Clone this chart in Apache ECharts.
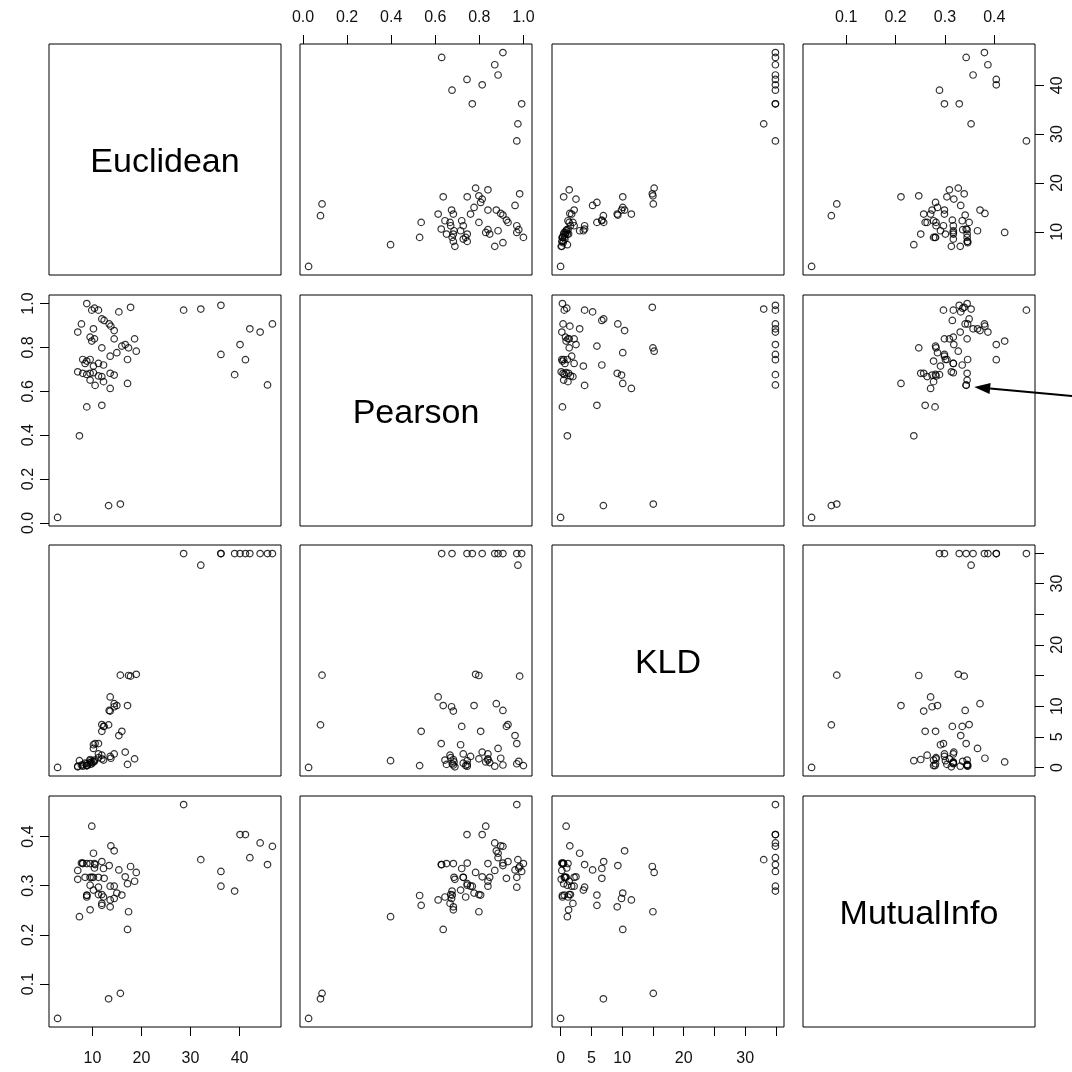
<!DOCTYPE html>
<html>
<head>
<meta charset="utf-8">
<script src="https://cdn.jsdelivr.net/npm/echarts@6/dist/echarts.min.js"></script>
<style>html,body{margin:0;padding:0;background:#fff}#c{width:1072px;height:1072px}</style>
</head>
<body>
<div id="c"></div>
<script>
// ---- data (one value per observation, same order in every array) ----
const variableNames = ['Euclidean', 'Pearson', 'KLD', 'MutualInfo'];
const euclidean = [2.9, 13.3, 15.7,
  28.6, 32.1, 36.2, 36.2, 39.0, 40.1, 41.2, 42.1, 44.2, 45.7, 46.7,
  8.85, 9.87, 10.42, 11.23, 15.39, 17.78, 7.76, 7.01, 10.21, 11.92, 12.39, 13.42, 13.76, 14.44,
  9.53, 10.42, 9.87, 14.44, 11.92, 18.6, 13.62, 14.98, 16.0, 16.69, 17.37, 18.94, 17.16,
  8.03, 8.51, 9.53, 8.85, 10.21, 11.23, 12.26, 7.01, 8.03, 8.85, 9.53, 10.21, 11.23, 11.92, 12.26,
  9.53, 10.55, 13.62, 14.44, 17.16, 13.62, 8.85, 11.92, 7.35];
const pearson = [0.025, 0.079, 0.086,
  0.970, 0.975, 0.992, 0.768, 0.676, 0.813, 0.744, 0.885, 0.870, 0.629, 0.907,
  1.000, 0.970, 0.979, 0.970, 0.962, 0.983, 0.907, 0.870, 0.885, 0.930, 0.923, 0.907, 0.897, 0.877,
  0.847, 0.839, 0.829, 0.839, 0.798, 0.839, 0.760, 0.776, 0.806, 0.813, 0.798, 0.783, 0.745,
  0.745, 0.727, 0.745, 0.738, 0.715, 0.727, 0.720, 0.689, 0.682, 0.677, 0.682, 0.685, 0.670, 0.667, 0.644,
  0.651, 0.627, 0.682, 0.674, 0.636, 0.613, 0.529, 0.536, 0.397];
const kld = [0.0, 6.95, 15.06,
  34.9, 33.0, 34.9, 34.9, 34.9, 34.9, 34.9, 34.9, 34.9, 34.9, 34.9,
  0.3, 0.6, 1.0, 3.9, 5.2, 14.9, 0.4, 0.2, 3.1, 7.0, 6.7, 9.3, 1.5, 10.4,
  0.8, 1.2, 0.9, 2.2, 1.4, 1.4, 1.8, 10.1, 5.9, 2.5, 15.0, 15.2, 0.5,
  0.2, 0.7, 1.1, 0.3, 3.7, 2.2, 6.7, 0.1, 0.4, 0.6, 1.3, 0.9, 1.6, 2.0, 1.2,
  0.5, 3.9, 9.2, 9.9, 10.1, 11.5, 0.3, 5.9, 1.1];
const mutualInfo = [0.030, 0.070, 0.081,
  0.465, 0.353, 0.329, 0.299, 0.289, 0.404, 0.404, 0.357, 0.387, 0.343, 0.380,
  0.345, 0.317, 0.336, 0.297, 0.332, 0.339, 0.346, 0.331, 0.366, 0.349, 0.315, 0.341, 0.381, 0.371,
  0.317, 0.345, 0.421, 0.299, 0.282, 0.309, 0.299, 0.285, 0.281, 0.318, 0.247, 0.327, 0.304,
  0.346, 0.317, 0.301, 0.277, 0.291, 0.317, 0.335, 0.313, 0.345, 0.281, 0.251, 0.317, 0.282, 0.264, 0.277,
  0.345, 0.343, 0.257, 0.274, 0.211, 0.271, 0.280, 0.260, 0.237];
const highlightedIndex = 12; // the point the arrow points at

// ---- tick labels ----
const euclideanTicks = [10, 20, 30, 40];
const pearsonTicks = [0.0, 0.2, 0.4, 0.6, 0.8, 1.0];
const kldTicks = [0, 5, 10, 15, 20, 25, 30, 35];
const kldLabels = [0, 5, 10, 20, 30];
const mutualInfoTicks = [0.1, 0.2, 0.3, 0.4];

const values = [euclidean, pearson, kld, mutualInfo];
const ticks = [euclideanTicks, pearsonTicks, kldTicks, mutualInfoTicks];
const labels = [euclideanTicks, pearsonTicks, kldLabels, mutualInfoTicks];
const fmt = [v => String(v), v => v.toFixed(1), v => String(v), v => v.toFixed(1)];

// R-style range: data range extended by 4% on both sides
function ext(arr) {
  const mn = Math.min(...arr), mx = Math.max(...arr), d = mx - mn;
  return [mn - 0.04 * d, mx + 0.04 * d];
}
const ranges = values.map(ext);

// ---- layout ----
const L0 = 49, T0 = 44, STEP_X = 251.3, STEP_Y = 250.7, W = 232, H = 231;
const FONT = 'Liberation Sans, Arial, sans-serif';
const n = 4;
const grids = [], xAxes = [], yAxes = [], series = [], texts = [];
const gi = (i, j) => i * n + j;

for (let i = 0; i < n; i++) {
  for (let j = 0; j < n; j++) {
    const left = Math.round(L0 + j * STEP_X), top = Math.round(T0 + i * STEP_Y);
    grids.push({left, top, width: W, height: H, show: true, borderColor: '#000', borderWidth: 1, backgroundColor: 'transparent', containLabel: false});
    const topAxis = (i === 0 && j % 2 === 1);
    const bottomAxis = (i === n - 1 && j % 2 === 0);
    const leftAxis = (j === 0 && i % 2 === 1);
    const rightAxis = (j === n - 1 && i % 2 === 0);
    const showX = (topAxis || bottomAxis) && i !== j;
    const showY = (leftAxis || rightAxis) && i !== j;
    xAxes.push({
      gridIndex: gi(i, j), type: 'value', min: ranges[j][0], max: ranges[j][1],
      position: topAxis ? 'top' : 'bottom',
      axisLine: {show: false}, splitLine: {show: false},
      axisTick: {show: showX, length: 9, lineStyle: {color: '#000', width: 1}, customValues: ticks[j]},
      axisLabel: {show: showX, customValues: labels[j], formatter: fmt[j], fontSize: 16, color: '#111', fontFamily: FONT, margin: topAxis ? 18 : 24}
    });
    yAxes.push({
      gridIndex: gi(i, j), type: 'value', min: ranges[i][0], max: ranges[i][1],
      position: rightAxis ? 'right' : 'left',
      axisLine: {show: false}, splitLine: {show: false},
      axisTick: {show: showY, length: 9, lineStyle: {color: '#000', width: 1}, customValues: ticks[i]},
      axisLabel: {show: showY, customValues: labels[i], formatter: fmt[i], rotate: 90, fontSize: 16, color: '#111', fontFamily: FONT, margin: rightAxis ? 15 : 12}
    });
    if (i === j) {
      texts.push({type: 'text', x: left + W / 2, y: top + H / 2 + 3, silent: true,
        style: {text: variableNames[i], fontSize: 34, fontFamily: FONT, fill: '#000', align: 'center', verticalAlign: 'middle'}});
    } else {
      series.push({
        type: 'scatter', xAxisIndex: gi(i, j), yAxisIndex: gi(i, j),
        symbol: 'circle', symbolSize: 6.5, silent: true, animation: false,
        itemStyle: {color: 'rgba(0,0,0,0)', borderColor: '#000', borderWidth: 1.2},
        data: values[j].map((v, k) => [v, values[i][k]])
      });
    }
  }
}

const chart = echarts.init(document.getElementById('c'), null, {renderer: 'canvas'});
chart.setOption({animation: false, backgroundColor: '#fff', grid: grids, xAxis: xAxes, yAxis: yAxes, series, graphic: texts});

// arrow annotation pointing at one observation in the Pearson ~ MutualInfo panel
const target = chart.convertToPixel({gridIndex: gi(1, 3)}, [mutualInfo[highlightedIndex], pearson[highlightedIndex]]);
const tip = [target[0] + 8, target[1] + 2];
const tail = [1072, target[1] + 11];
const dx = tail[0] - tip[0], dy = tail[1] - tip[1], len = Math.hypot(dx, dy);
const ux = dx / len, uy = dy / len, px = -uy, py = ux;
const headLen = 16, headW = 5.5;
const base = [tip[0] + ux * headLen, tip[1] + uy * headLen];
texts.push({type: 'line', silent: true, shape: {x1: base[0], y1: base[1], x2: tail[0], y2: tail[1]}, style: {stroke: '#000', lineWidth: 2}});
texts.push({type: 'polygon', silent: true, shape: {points: [tip, [base[0] + px * headW, base[1] + py * headW], [base[0] - px * headW, base[1] - py * headW]]}, style: {fill: '#000'}});
chart.setOption({graphic: texts});
</script>
</body>
</html>
